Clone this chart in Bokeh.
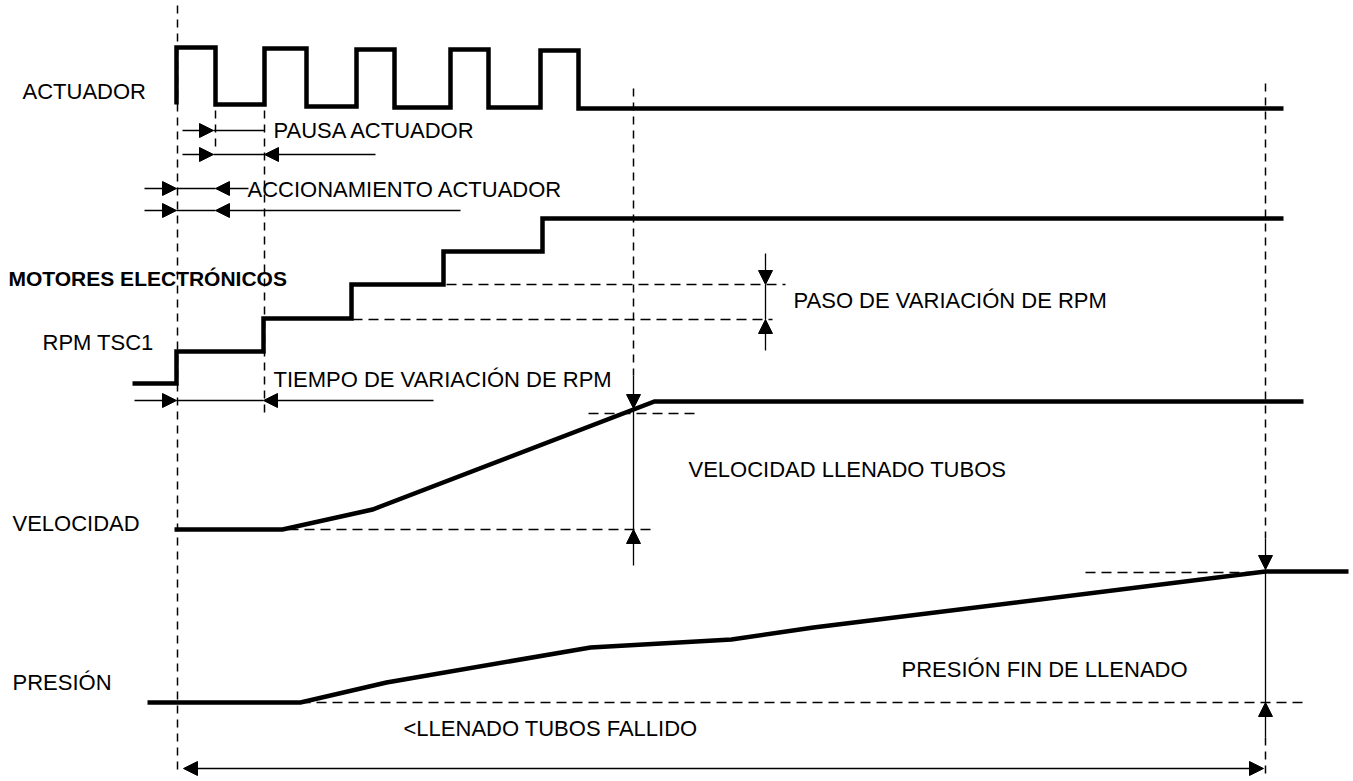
from bokeh.plotting import figure
from bokeh.models import Range1d, Arrow, NormalHead, ColumnDataSource
from bokeh.core.properties import value
from bokeh.embed import file_html
from bokeh.resources import INLINE

# ---------------- data (diagram coordinates, y grows downward) ----------------
# ACTUADOR square wave
actuator_x = [176, 176, 215, 215, 264, 264, 306, 306, 356, 356, 394, 394, 450, 450,
              488, 488, 540, 540, 578, 578, 1283]
actuator_y = [104, 47, 47, 104, 104, 48, 48, 106, 106, 49, 49, 107, 107, 49,
              49, 107, 107, 50, 50, 108, 108]

# RPM TSC1 staircase
rpm_x = [132, 176, 176, 263, 263, 351, 351, 443, 443, 542, 542, 1283]
rpm_y = [383, 383, 351, 351, 318, 318, 284, 284, 251, 251, 218, 218]

# VELOCIDAD ramp
vel_x = [174, 282, 372, 654, 1303]
vel_y = [529, 529, 509, 401, 401]

# PRESIÓN ramp
pres_x = [147, 300, 386, 590, 731, 813, 1265, 1348]
pres_y = [702, 702, 682, 647, 639, 627, 571, 571]

# labels
label_text = ["ACTUADOR", "PAUSA ACTUADOR", "ACCIONAMIENTO ACTUADOR", "RPM TSC1",
              "TIEMPO DE VARIACIÓN DE RPM", "PASO DE VARIACIÓN DE RPM",
              "VELOCIDAD LLENADO TUBOS", "VELOCIDAD", "PRESIÓN",
              "<LLENADO TUBOS FALLIDO", "PRESIÓN FIN DE LLENADO"]
label_x = [22, 273, 247, 42, 273, 793, 688, 12, 12, 403, 901]
label_y = [91, 130, 189, 342, 379, 300, 469, 523, 682, 728, 669]

bold_text = ["MOTORES ELECTRÓNICOS"]
bold_x = [8]
bold_y = [278]

# dashed vertical guides
vdash_x = [177, 215, 264, 633, 1265, 1265]
vdash_y0 = [5, 110, 110, 88, 83, 737]
vdash_y1 = [773, 150, 412, 375, 538, 773]

# dashed horizontal guides
hdash_y = [284, 319, 413, 529, 572, 702]
hdash_x0 = [446, 352, 588, 288, 1085, 300]
hdash_x1 = [785, 772, 700, 654, 1265, 1304]

# thin plain dimension lines
seg_x0 = [213, 213, 176, 176, 176, 765, 633, 1265]
seg_y0 = [130, 154, 188, 210, 400, 284, 408, 569]
seg_x1 = [264, 264, 215, 215, 263, 765, 633, 1265]
seg_y1 = [130, 154, 188, 210, 400, 319, 529, 702]

# single-headed arrows (start -> tip)
arr_x0 = [182, 182, 375, 144, 248, 144, 460, 134, 433, 765, 765, 633, 633, 1265, 1265]
arr_y0 = [130, 154, 154, 188, 188, 210, 210, 400, 400, 253, 350, 375, 565, 538, 737]
arr_x1 = [213, 213, 264, 176, 215, 176, 215, 176, 263, 765, 765, 633, 633, 1265, 1265]
arr_y1 = [130, 154, 154, 188, 188, 210, 210, 400, 400, 284, 319, 408, 529, 569, 702]

# double-headed arrow at bottom
darr_x0 = [183]
darr_y0 = [768]
darr_x1 = [1263]
darr_y1 = [768]

# ---------------- figure ----------------
W, H = 1353, 781
p = figure(width=W, height=H, output_backend="svg", toolbar_location=None,
           x_range=Range1d(0, W), y_range=Range1d(H, 0),
           x_axis_location=None, y_axis_location=None, min_border=0,
           background_fill_color="white", border_fill_color="white")
p.grid.visible = False
p.outline_line_color = None

# dashed guides
p.segment(x0=vdash_x, y0=vdash_y0, x1=vdash_x, y1=vdash_y1,
          line_color="black", line_width=1.5, line_dash="8 6")
p.segment(x0=hdash_x0, y0=hdash_y, x1=hdash_x1, y1=hdash_y,
          line_color="black", line_width=1.5, line_dash="10 6")

# thin dimension lines
p.segment(x0=seg_x0, y0=seg_y0, x1=seg_x1, y1=seg_y1,
          line_color="black", line_width=1.3)

# signals
for xs, ys in [(actuator_x, actuator_y), (rpm_x, rpm_y), (vel_x, vel_y), (pres_x, pres_y)]:
    p.line(xs, ys, line_color="black", line_width=4.5, line_join="miter", line_cap="butt")

# arrows
arr_src = ColumnDataSource(dict(x0=arr_x0, y0=arr_y0, x1=arr_x1, y1=arr_y1))
p.add_layout(Arrow(end=NormalHead(size=14, fill_color="black", line_color="black", line_width=1),
                   x_start="x0", y_start="y0", x_end="x1", y_end="y1",
                   source=arr_src, line_color="black", line_width=1.3))

darr_src = ColumnDataSource(dict(x0=darr_x0, y0=darr_y0, x1=darr_x1, y1=darr_y1))
p.add_layout(Arrow(start=NormalHead(size=14, fill_color="black", line_color="black", line_width=1),
                   end=NormalHead(size=14, fill_color="black", line_color="black", line_width=1),
                   x_start="x0", y_start="y0", x_end="x1", y_end="y1",
                   source=darr_src, line_color="black", line_width=1.3))

# labels
p.text(x=label_x, y=label_y, text=label_text, text_font=value("Liberation Sans"),
       text_font_size="22px", text_color="black", text_align="left", text_baseline="alphabetic")
p.text(x=bold_x, y=bold_y, text=bold_text, text_font=value("Liberation Sans"),
       text_font_size="21px", text_font_style="bold", text_color="black",
       text_align="left", text_baseline="alphabetic")

open("out.html", "w").write(file_html(p, INLINE))
